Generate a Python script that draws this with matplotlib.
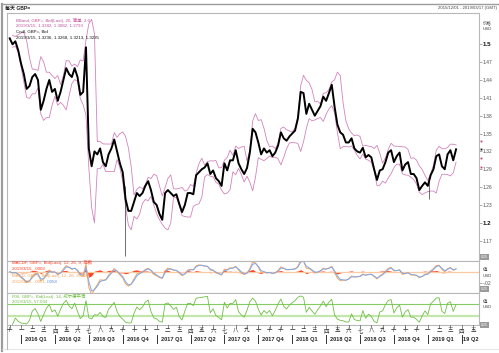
import matplotlib
matplotlib.use("Agg")
import matplotlib.pyplot as plt
import matplotlib.transforms as mtransforms
from matplotlib.lines import Line2D
import numpy as np
import pandas as pd

plt.rcParams['font.family'] = ['Liberation Sans', 'Noto Sans CJK SC', 'DejaVu Sans']

# weekly GBP= closes; x axis counted in months, 0 = 2016-01-01
start_month = -1.0
step_month = 0.25
close = [
    1.510, 1.500, 1.505, 1.490,   # 2015 Dec
    1.468, 1.450, 1.425, 1.430,   # 2016 Jan
    1.445, 1.450, 1.440, 1.390,
    1.405, 1.425, 1.440, 1.420,
    1.425, 1.405, 1.420, 1.440,
    1.460, 1.450, 1.445, 1.460,
    1.445, 1.415, 1.420, 1.495,
    1.325, 1.295, 1.320, 1.315,
    1.325, 1.302, 1.295, 1.315,
    1.325, 1.340, 1.320, 1.300,
    1.285, 1.240, 1.220, 1.220,
    1.235, 1.250, 1.245, 1.250,
    1.262, 1.270, 1.255, 1.235,
    1.230, 1.215, 1.205, 1.250,   # 2017 Jan
    1.255, 1.250, 1.245, 1.248,
    1.232, 1.218, 1.230, 1.250,
    1.250, 1.248, 1.280, 1.285,
    1.290, 1.293, 1.300, 1.282,
    1.288, 1.275, 1.270, 1.262,
    1.300, 1.288, 1.305, 1.305,
    1.322, 1.300, 1.290, 1.282,
    1.292, 1.318, 1.358, 1.352,
    1.335, 1.315, 1.325, 1.318,
    1.322, 1.312, 1.318, 1.330,
    1.352, 1.342, 1.338, 1.345,
    1.350, 1.355, 1.375, 1.420,   # 2018 Jan
    1.418, 1.383, 1.400, 1.390,
    1.380, 1.388, 1.396, 1.412,
    1.405, 1.418, 1.432, 1.395,
    1.365, 1.352, 1.348, 1.335,
    1.335, 1.342, 1.325, 1.320,
    1.318, 1.326, 1.310, 1.314,
    1.310, 1.290, 1.272, 1.288,
    1.290, 1.302, 1.318, 1.322,
    1.302, 1.312, 1.318, 1.288,
    1.298, 1.302, 1.282, 1.282,
    1.275, 1.255, 1.262, 1.268,
    1.262, 1.280, 1.290, 1.312,   # 2019 Jan
    1.315, 1.295, 1.290, 1.315,
    1.322, 1.305, 1.3235,
]
# long wicks (flash crashes)
wick_months = [9.2, 36.1]
wick_low = [1.145, 1.240]
wick_high = [1.262, 1.272]

# last values shown on the right axis
last_marks = [1.3382, 1.3235, 1.3082, 1.2935]
last_colors = ["#c0407a", "#111111", "#c0407a", "#c0407a"]

month_names = ["一", "二", "三", "四", "五", "六", "七", "八", "九", "十", "十", "十"]
quarter_labels = ["2016 Q1", "2016 Q2", "2016 Q3", "2016 Q4", "2017 Q1", "2017 Q2",
                  "2017 Q3", "2017 Q4", "2018 Q1", "2018 Q2", "2018 Q3", "2018 Q4",
                  "2019 Q1", "19 Q2"]
price_ticks = [1.17, 1.2, 1.23, 1.26, 1.29, 1.32, 1.35, 1.38, 1.41, 1.44, 1.47, 1.5]

# indicators
s = pd.Series(close)
x = start_month + step_month * np.arange(len(close))
bb_mid = s.rolling(4, min_periods=2).mean()
bb_sd = s.rolling(4, min_periods=2).std(ddof=0)
bb_up = bb_mid + 2 * bb_sd
bb_lo = bb_mid - 2 * bb_sd

macd = s.ewm(span=2.4, adjust=False).mean() - s.ewm(span=5.2, adjust=False).mean()
signal = macd.ewm(span=1.8, adjust=False).mean()
hist = macd - signal

d = s.diff()
up = d.clip(lower=0).ewm(alpha=1 / 2.8, adjust=False).mean()
dn = (-d.clip(upper=0)).ewm(alpha=1 / 2.8, adjust=False).mean()
rsi = 100 - 100 / (1 + up / dn)

W, H = 499, 353
fig = plt.figure(figsize=(W / 100, H / 100), dpi=100)
fig.patch.set_facecolor("white")


def fx(px):
    return px / W


def fy(py):
    return 1 - py / H


def px_axes(x0, y0, x1, y1):
    return fig.add_axes([fx(x0), fy(y1), (x1 - x0) / W, (y1 - y0) / H])


ax = px_axes(7, 13, 479, 261)
ax_m = px_axes(7, 261, 479, 293)
ax_r = px_axes(7, 293, 479, 325)
xlim = (-1.24, 40.53)
for a in (ax, ax_m, ax_r):
    a.set_xlim(*xlim)
    a.set_xticks([])
    for sp in a.spines.values():
        sp.set_color("#b8b8b8")
        sp.set_linewidth(0.8)
    a.yaxis.tick_right()
    a.tick_params(axis="y", length=2, width=0.5, color="#888", pad=0.6,
                  labelsize=3.6, labelcolor="#555")

# main price panel
ax.set_ylim(1.1358, 1.5526)
ax.plot(x, bb_up, color="#d383bd", lw=0.6)
ax.plot(x, bb_lo, color="#d383bd", lw=0.6)
ax.vlines(wick_months, wick_low, wick_high, color="#333", lw=0.5)
ax.plot(x, close, color="black", lw=1.4)
ax.set_yticks(price_ticks)
ax.set_yticklabels([("%.2f" % v).rstrip("0") for v in price_ticks])
for lab, v in zip(ax.get_yticklabels(), price_ticks):
    if v in (1.2, 1.5):
        lab.set_fontweight("bold")
        lab.set_fontsize(4.4)
        lab.set_color("#111")
mt = mtransforms.blended_transform_factory(ax.transAxes, ax.transData)
for v, c in zip(last_marks, last_colors):
    ax.plot([1.005], [v], marker="s", ms=1.3, color=c, mec="none",
            transform=mt, clip_on=False)

pink = "#c0509a"
legend_lines = [
    (20.0, "BBand, GBP=, Bid(Last), 20, 简单, 2.0", pink),
    (25.7, "2019/3/15, 1.3382, 1.3082, 1.2793", pink),
    (31.7, "Cndl, GBP=, Bid", "#111"),
    (37.7, "2019/3/15, 1.3236, 1.3268, 1.3213, 1.3235", "#111"),
]
for yy, t, c in legend_lines:
    fig.text(fx(16), fy(yy), t, color=c, fontsize=3.2, va="center")

# MACD panel
ax_m.set_ylim(-0.0387, 0.0195)
ax_m.axhline(0, color="#fbc9a3", lw=0.9)
ax_m.fill_between(x, 0, hist, color="#ff3a1c", lw=0)
ax_m.plot(x, macd, color="#f5a25a", lw=0.7)
ax_m.plot(x, signal, color="#7ea8ea", lw=0.7)
ax_m.set_yticks([-0.02])
ax_m.set_yticklabels(["-.02"])
fig.text(fx(12), fy(262.5), "MACDF, GBP=, Bid(Last), 12, 26, 9, 指数", color="#ff3a1c",
         fontsize=3.2, va="center")
fig.text(fx(12), fy(269), "2019/3/15, .0003", color="#ff3a1c", fontsize=3.2, va="center")
fig.text(fx(12), fy(275.5), "MACD, GBP=, Bid(Last), 12, 26, 9, 指数", color="#f5a25a",
         fontsize=3.2, va="center")
fig.text(fx(12), fy(282), "2019/3/15, .0061,", color="#f5a25a", fontsize=3.2, va="center")
fig.text(fx(46.5), fy(282), ".0058", color="#5d8fe0", fontsize=3.2, va="center")

# RSI panel
ax_r.set_ylim(-2, 108)
ax_r.set_yticks([])
ax_r.axhline(70, color="#86cc62", lw=0.8)
ax_r.axhline(30, color="#c3e6ad", lw=1.6)
ax_r.plot(x, rsi, color="#6fbf45", lw=0.6)
fig.text(fx(12), fy(296), "RSI, GBP=, Bid(Last), 14, 威尔德平滑", color="#6fbf45",
         fontsize=3.2, va="center")
fig.text(fx(12), fy(301.5), "2019/3/15, 57.034", color="#6fbf45", fontsize=3.2, va="center")

# right side captions and scale handles
for yy, t in [(23, "价格"), (29, "USD"), (270, "值"), (276, "USD"), (302, "值"), (307.5, "USD")]:
    fig.text(fx(483), fy(yy), t, fontsize=3.2, color="#444", va="center")
for yy in (257, 289, 325):
    fig.text(fx(481), fy(yy), "0.25", fontsize=2.6, color="white", va="center",
             bbox=dict(boxstyle="square,pad=0.15", fc="#9a9a9a", ec="none"))

# title bar
fig.text(fx(5), fy(8.5), "每天 GBP=", fontsize=3.6, fontweight="bold", color="#222", va="center")
fig.text(fx(497), fy(8.5), "2015/12/01 - 2019/03/17 (GMT)", fontsize=3.1, color="#444",
         va="center", ha="right")

# time axis under the RSI panel
xt = mtransforms.blended_transform_factory(ax_r.transData, fig.transFigure)
for k in range(-1, 41):
    fig.add_artist(Line2D([k, k], [fy(325), fy(328)], color="#555", lw=0.5, transform=xt))
    fig.text(k, fy(330.5), month_names[k % 12], transform=xt, fontsize=4, color="#333",
             ha="center", va="center")
for i, q in enumerate(quarter_labels):
    qx = 3 * i
    fig.add_artist(Line2D([qx, qx], [fy(335), fy(343)], color="#333", lw=0.7, transform=xt))
    off = 0.35 if i < len(quarter_labels) - 1 else 0.12
    fig.text(qx + off, fy(339.5), q, transform=xt, fontsize=4.1, fontweight="bold",
             color="#222", ha="left", va="center")

# outer frame
frame = dict(color="#9c9c9c", transform=fig.transFigure)
fig.add_artist(Line2D([fx(2), 1], [fy(4), fy(4)], lw=1.0, **frame))
fig.add_artist(Line2D([fx(2), fx(2)], [fy(4), fy(351)], lw=1.6, **frame))
fig.add_artist(Line2D([fx(2), 1], [fy(349), fy(349)], lw=0.6, color="#e0e0e0",
                      transform=fig.transFigure))
fig.add_artist(Line2D([fx(7), fx(7)], [fy(325), fy(349)], lw=0.8, color="#b8b8b8",
                      transform=fig.transFigure))

fig.savefig("out.png", dpi=100)
